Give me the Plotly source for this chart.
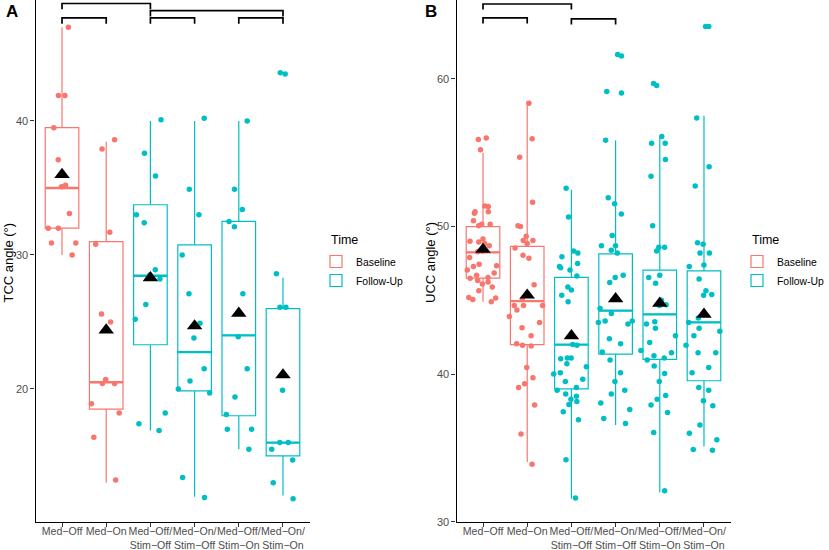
import plotly.graph_objects as go

# ---------------- data ----------------
categories = ["Med−Off", "Med−On", "Med−Off/<br>Stim−Off", "Med−On/<br>Stim−Off",
              "Med−Off/<br>Stim−On", "Med−On/<br>Stim−On"]
time_group = ["Baseline", "Baseline", "Follow-Up", "Follow-Up", "Follow-Up", "Follow-Up"]
positions = [1, 2, 3, 4, 5, 6]

# Panel A: TCC angle (deg), individual observations
tcc_med_off = [47.0, 41.9, 41.9, 39.5, 37.1, 35.2, 35.1, 33.1, 32.0, 32.0, 30.9, 30.9, 30.0]
tcc_med_on = [38.6, 37.9, 31.7, 30.8, 25.6, 25.0, 20.7, 20.4, 20.4, 18.9, 18.2, 16.4, 13.2]
tcc_off_stimoff = [40.1, 37.6, 35.9, 33.0, 32.4, 28.9, 28.5, 28.2, 26.3, 25.2, 18.2, 17.4, 16.9]
tcc_on_stimoff = [40.2, 34.9, 33.0, 30.0, 27.1, 24.9, 23.8, 21.5, 20.6, 20.0, 19.7, 13.4, 11.9]
tcc_off_stimon = [40.0, 34.9, 33.4, 32.5, 32.1, 27.1, 23.9, 21.5, 19.4, 18.1, 17.0, 17.0, 15.5]
tcc_on_stimon = [43.6, 43.5, 28.6, 26.1, 26.1, 19.9, 16.0, 16.0, 15.5, 14.7, 13.0, 11.8]

tcc_q1 = [32.0, 18.5, 23.3, 19.85, 18.0, 15.0]
tcc_median = [35.0, 20.5, 28.45, 22.75, 24.0, 16.0]
tcc_q3 = [39.5, 31.0, 33.75, 30.75, 32.5, 26.0]
tcc_lower = [30.0, 13.0, 16.9, 11.95, 15.5, 12.05]
tcc_upper = [47.0, 38.45, 40.0, 40.0, 40.0, 28.3]
tcc_mean = [36.0, 24.4, 28.3, 24.7, 25.65, 21.05]

# significance brackets: (from category, to category, height)
tcc_brackets = [(1, 3, 48.77), (1, 2, 47.69), (3, 6, 48.23), (3, 4, 47.69), (5, 6, 47.69)]

# Panel B: UCC angle (deg), individual observations
ucc_med_off = [56.0, 55.9, 55.2, 51.4, 51.35, 51.0, 51.0, 50.9, 50.4, 50.15, 50.15, 50.05,
               49.15, 49.0, 48.85, 48.95, 48.7, 48.3, 48.35, 47.9, 47.45, 47.35, 47.3, 47.05,
               46.85, 46.7, 46.55, 46.35, 46.25, 46.1, 46.5, 45.9, 45.65, 45.2, 44.9, 45.15, 45.05]
ucc_med_on = [58.35, 55.95, 54.7, 51.65, 50.0, 50.05, 49.35, 49.05, 49.05, 48.85, 48.55, 48.05,
              47.85, 46.05, 45.35, 45.05, 44.65, 44.65, 44.65, 44.35, 43.9, 43.5, 43.15, 42.6,
              42.05, 41.95, 41.9, 40.45, 39.75, 39.35, 39.1, 37.9, 35.95, 33.9]
ucc_off_stimoff = [52.6, 50.65, 48.35, 48.2, 47.95, 47.5, 47.3, 47.2, 47.05, 46.65, 45.9, 45.7,
                   45.35, 44.9, 42.0, 41.95, 41.1, 41.1, 41.05, 40.7, 40.5, 40.1, 40.0, 39.65,
                   39.5, 39.1, 38.9, 38.65, 38.5, 38.3, 38.15, 37.95, 37.45, 36.9, 34.2, 31.6]
ucc_on_stimoff = [61.65, 61.55, 59.15, 59.05, 55.85, 51.95, 51.55, 50.85, 49.4, 48.7, 48.7, 48.4,
                  48.2, 46.7, 46.55, 46.2, 44.45, 44.1, 43.6, 43.6, 43.5, 43.4, 42.4, 42.05,
                  41.5, 40.95, 40.1, 39.5, 38.9, 38.65, 38.05, 37.6, 37.0, 36.65]
ucc_off_stimon = [59.7, 59.55, 56.1, 55.65, 55.65, 54.55, 53.4, 50.05, 48.6, 48.6, 48.35, 46.7,
                  46.55, 46.15, 45.0, 44.7, 44.65, 43.55, 43.4, 43.1, 42.6, 42.15, 41.6, 41.45,
                  41.25, 41.1, 40.95, 40.55, 40.05, 39.5, 38.55, 38.3, 37.9, 37.4, 36.05, 32.1]
ucc_on_stimon = [63.55, 63.55, 57.35, 54.05, 52.75, 48.9, 48.8, 48.2, 48.2, 47.4, 47.3, 46.45,
                 45.65, 45.4, 45.35, 43.8, 43.5, 43.1, 42.9, 42.6, 41.95, 41.45, 41.45, 40.45,
                 40.1, 39.1, 38.9, 38.2, 37.85, 36.55, 36.0, 35.55, 34.9, 34.85]

ucc_q1 = [46.5, 42.0, 39.0, 41.35, 41.0, 39.55]
ucc_median = [48.25, 44.95, 42.0, 44.3, 44.05, 43.5]
ucc_q3 = [50.0, 48.65, 46.55, 48.15, 47.05, 47.0]
ucc_lower = [44.9, 34.05, 31.55, 36.55, 32.0, 35.1]
ucc_upper = [55.0, 58.5, 52.5, 55.85, 56.05, 57.5]
ucc_mean = [48.45, 45.35, 42.6, 45.1, 44.8, 44.05]

ucc_brackets = [(1, 3, 65.08), (1, 2, 64.14), (3, 4, 64.07)]

# ---------------- style ----------------
COLORS = {"Baseline": "#F8766D", "Follow-Up": "#00BFC4"}
FONT = "Liberation Sans, Arial, Helvetica, sans-serif"
BOX_W = 0.76
JIT_W = 0.88
W, H = 829, 550

fig = go.Figure()


def add_panel(ax, legend, groups, q1, med, q3, lo, hi, mean, brackets, tip):
    xa = "x" if ax == 1 else f"x{ax}"
    ya = "y" if ax == 1 else f"y{ax}"
    # boxes (precomputed statistics)
    for grp in ["Baseline", "Follow-Up"]:
        idx = [i for i, g in enumerate(time_group) if g == grp]
        fig.add_trace(go.Box(
            x=[positions[i] for i in idx],
            q1=[q1[i] for i in idx], median=[med[i] for i in idx], q3=[q3[i] for i in idx],
            lowerfence=[lo[i] for i in idx], upperfence=[hi[i] for i in idx],
            boxpoints=False, whiskerwidth=0, width=BOX_W,
            fillcolor="white", line=dict(color=COLORS[grp], width=1.2),
            name=grp, legend=legend, showlegend=True, hoverinfo="skip",
            xaxis=xa, yaxis=ya))
    # thicker median lines
    for grp in ["Baseline", "Follow-Up"]:
        xs, ys = [], []
        for i, g in enumerate(time_group):
            if g == grp:
                xs += [positions[i] - BOX_W / 2, positions[i] + BOX_W / 2, None]
                ys += [med[i], med[i], None]
        fig.add_trace(go.Scatter(x=xs, y=ys, mode="lines",
                                 line=dict(color=COLORS[grp], width=2.3),
                                 showlegend=False, hoverinfo="skip", xaxis=xa, yaxis=ya))
    # jittered points (library jitter, box itself invisible)
    for i, pts in enumerate(groups):
        fig.add_trace(go.Box(
            y=pts, x0=positions[i], width=JIT_W, boxpoints="all", jitter=1.0, pointpos=0,
            marker=dict(color=COLORS[time_group[i]], size=5.5),
            line=dict(width=0, color="rgba(0,0,0,0)"), fillcolor="rgba(0,0,0,0)",
            whiskerwidth=0, showlegend=False, hoverinfo="skip", xaxis=xa, yaxis=ya))
    # means
    fig.add_trace(go.Scatter(x=positions, y=mean, mode="markers",
                             marker=dict(symbol="triangle-up", size=13.5, color="black"),
                             showlegend=False, hoverinfo="skip", xaxis=xa, yaxis=ya))
    # significance brackets
    bx, by = [], []
    for a, b, h in brackets:
        bx += [a, a, b, b, None]
        by += [h - tip, h, h, h - tip, None]
    fig.add_trace(go.Scatter(x=bx, y=by, mode="lines", line=dict(color="black", width=1.7),
                             showlegend=False, hoverinfo="skip", xaxis=xa, yaxis=ya,
                             cliponaxis=False))


add_panel(1, "legend",
          [tcc_med_off, tcc_med_on, tcc_off_stimoff, tcc_on_stimoff, tcc_off_stimon, tcc_on_stimon],
          tcc_q1, tcc_median, tcc_q3, tcc_lower, tcc_upper, tcc_mean, tcc_brackets, 0.43)
add_panel(2, "legend2",
          [ucc_med_off, ucc_med_on, ucc_off_stimoff, ucc_on_stimoff, ucc_off_stimon, ucc_on_stimon],
          ucc_q1, ucc_median, ucc_q3, ucc_lower, ucc_upper, ucc_mean, ucc_brackets, 0.38)

ydom = [(H - 522) / H, 1.0]
common_x = dict(range=[0.4, 6.6], tickmode="array", tickvals=positions, ticktext=categories,
                tickangle=0, showline=True, linecolor="black", linewidth=1.1, ticks="outside",
                ticklen=4, tickwidth=1.1, tickcolor="#333333", showgrid=False, zeroline=False,
                automargin=False, ticklabelstandoff=-5,
                tickfont=dict(size=10.6, color="#4D4D4D", family=FONT), fixedrange=True)
common_y = dict(showline=True, linecolor="black", linewidth=1.1, ticks="outside", ticklen=4,
                tickwidth=1.1, tickcolor="#333333", showgrid=False, zeroline=False,
                automargin=False,
                tickfont=dict(size=11, color="#4D4D4D", family=FONT), fixedrange=True)

legend_common = dict(xanchor="left", yanchor="top", bgcolor="rgba(0,0,0,0)",
                     font=dict(size=10.4, color="black", family=FONT), tracegroupgap=0,
                     itemclick=False, itemdoubleclick=False)

fig.update_layout(
    width=W, height=H,
    margin=dict(l=0, r=0, t=0, b=0, autoexpand=False),
    paper_bgcolor="white", plot_bgcolor="white",
    font=dict(family=FONT, color="black"),
    boxmode="overlay",
    xaxis=dict(domain=[35.5 / W, 309.5 / W], anchor="y", **common_x),
    yaxis=dict(domain=ydom, anchor="x", range=[10.07, 49.03], tickvals=[20, 30, 40], **common_y),
    xaxis2=dict(domain=[456.5 / W, 730.5 / W], anchor="y2", **common_x),
    yaxis2=dict(domain=ydom, anchor="x2", range=[29.98, 65.35], tickvals=[30, 40, 50, 60], **common_y),
    legend=dict(x=316 / W, y=1 - 247 / H, **legend_common),
    legend2=dict(x=737 / W, y=1 - 247 / H, **legend_common),
    annotations=[
        dict(text="<b>A</b>", x=4 / W, y=1 - 11.5 / H, xref="paper", yref="paper",
             xanchor="left", yanchor="middle", showarrow=False, font=dict(size=17, color="black")),
        dict(text="<b>B</b>", x=423 / W, y=1 - 11.5 / H, xref="paper", yref="paper",
             xanchor="left", yanchor="middle", showarrow=False, font=dict(size=17, color="black")),
        dict(text="TCC angle (°)", x=7.5 / W, y=1 - 263 / H, xref="paper", yref="paper",
             textangle=-90, xanchor="center", yanchor="middle", showarrow=False,
             font=dict(size=13, color="black")),
        dict(text="UCC angle (°)", x=430 / W, y=1 - 263 / H, xref="paper", yref="paper",
             textangle=-90, xanchor="center", yanchor="middle", showarrow=False,
             font=dict(size=13, color="black")),
        dict(text="Time", x=329 / W, y=1 - 240 / H, xref="paper", yref="paper",
             xanchor="left", yanchor="middle", showarrow=False, font=dict(size=12.5, color="black")),
        dict(text="Time", x=750 / W, y=1 - 240 / H, xref="paper", yref="paper",
             xanchor="left", yanchor="middle", showarrow=False, font=dict(size=12.5, color="black")),
    ],
)

# remove the default 8px page margin so the figure sits at the window's top-left corner
fig.write_html("out.html", config={"displayModeBar": False},
               post_script="document.body.style.margin='0';document.body.style.overflow='hidden';")
